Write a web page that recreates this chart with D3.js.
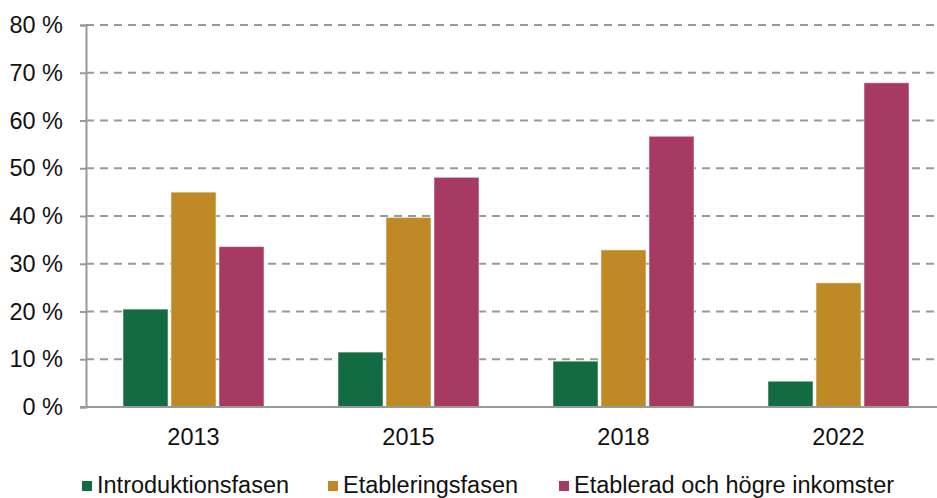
<!DOCTYPE html>
<html>
<head>
<meta charset="utf-8">
<script src="https://cdn.jsdelivr.net/npm/d3@7"></script>
<style>
  body { margin: 0; background: #fff; }
  text { font-family: "Liberation Sans", Arial, sans-serif; fill: #111; }
</style>
</head>
<body>
<div id="chart"></div>
<script>
var years = ["2013", "2015", "2018", "2022"];
var seriesNames = ["Introduktionsfasen", "Etableringsfasen", "Etablerad och högre inkomster"];
var introValues = [20.5, 11.5, 9.6, 5.4];
var etabValues = [45.0, 39.7, 32.9, 26.0];
var hogreValues = [33.6, 48.1, 56.7, 67.9];
var yTicks = [0, 10, 20, 30, 40, 50, 60, 70, 80];
var colors = ["#136b41", "#bf8a26", "#a73a63"];

var W = 937, H = 498;
var margin = { top: 25, left: 86, bottom: 91 };
var plotRight = 946;
var height = H - margin.top - margin.bottom;
var fontSize = "23.5px";

var svg = d3.select("#chart").append("svg")
    .attr("width", W)
    .attr("height", H);

var x = d3.scaleBand()
    .domain(years)
    .range([margin.left, plotRight])
    .paddingInner(0)
    .paddingOuter(0);

var xs = d3.scaleBand()
    .domain(seriesNames)
    .range([0, 144])
    .padding(0);

var y = d3.scaleLinear()
    .domain([0, 80])
    .range([margin.top + height, margin.top]);

// gridlines
svg.append("g")
    .selectAll("line")
    .data(yTicks.filter(function (d) { return d > 0; }))
    .enter()
    .append("line")
    .attr("x1", margin.left)
    .attr("x2", W)
    .attr("y1", function (d) { return y(d); })
    .attr("y2", function (d) { return y(d); })
    .attr("stroke", "#999")
    .attr("stroke-width", 2)
    .attr("stroke-dasharray", "8,6");

var rows = [introValues, etabValues, hogreValues];
var groups = svg.selectAll(".grp")
    .data(years)
    .enter()
    .append("g")
    .attr("class", "grp")
    .attr("transform", function (d) {
        return "translate(" + (x(d) + x.bandwidth() / 2 - 72) + ",0)";
    });

groups.selectAll("rect")
    .data(function (d, i) {
        return seriesNames.map(function (s, k) { return { s: s, k: k, v: rows[k][i] }; });
    })
    .enter()
    .append("rect")
    .attr("x", function (d) { return xs(d.s) + 1.5; })
    .attr("width", xs.bandwidth() - 3)
    .attr("y", function (d) { return y(d.v); })
    .attr("height", function (d) { return y(0) - y(d.v); })
    .attr("fill", function (d) { return colors[d.k]; })
    .attr("stroke", "#fff")
    .attr("stroke-opacity", 0.5)
    .attr("stroke-width", 1);

// y axis
var gy = svg.append("g")
    .attr("transform", "translate(" + margin.left + ",0)")
    .call(d3.axisLeft(y).tickValues(yTicks).tickSize(6).tickPadding(17)
        .tickFormat(function (d) { return d + " %"; }));
gy.select(".domain").attr("stroke", "#999").attr("stroke-width", 2);
gy.selectAll(".tick line").attr("stroke", "#999").attr("stroke-width", 2);
gy.selectAll(".tick text")
    .style("font-size", fontSize)
    .style("font-family", "Liberation Sans, Arial, sans-serif")
    .attr("fill", "#111");

// x axis
var gx = svg.append("g")
    .attr("transform", "translate(0," + y(0) + ")")
    .call(d3.axisBottom(x).tickSize(0).tickPadding(21));
gx.select(".domain").attr("stroke", "#999").attr("stroke-width", 2)
    .attr("d", "M" + (margin.left - 6) + ",0H" + W);
gx.selectAll(".tick text")
    .style("font-size", fontSize)
    .style("font-family", "Liberation Sans, Arial, sans-serif")
    .attr("fill", "#111");

// legend
var legendX = [82, 328, 559];
var leg = svg.selectAll(".leg")
    .data(seriesNames)
    .enter()
    .append("g")
    .attr("class", "leg")
    .attr("transform", function (d, i) { return "translate(" + legendX[i] + ",485)"; });
leg.append("rect")
    .attr("x", 0).attr("y", -4)
    .attr("width", 10).attr("height", 10)
    .attr("fill", function (d, i) { return colors[i]; });
leg.append("text")
    .attr("x", 15)
    .attr("dy", "0.35em")
    .style("font-size", fontSize)
    .text(function (d) { return d; });
</script>
</body>
</html>
